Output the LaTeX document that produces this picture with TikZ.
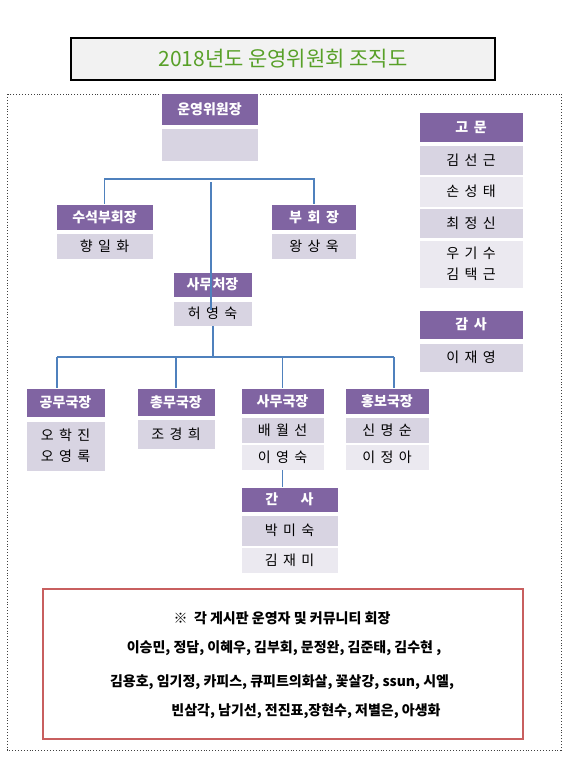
\documentclass[tikz,border=0pt]{standalone}
\usepackage{fontspec}
\setmainfont{Noto Sans CJK KR}
\definecolor{hdrc}{RGB}{128,100,162}
\definecolor{bodyc}{RGB}{216,212,226}
\definecolor{bodyl}{RGB}{235,233,240}
\definecolor{linec}{RGB}{79,129,189}
\definecolor{titleg}{RGB}{88,160,40}
\definecolor{redb}{RGB}{200,95,95}
\definecolor{titlebg}{RGB}{242,242,242}
\newcommand\myhdrfont{\fontsize{14}{16}\selectfont\bfseries\spaceskip=0.4em\relax}
\newcommand\mybodyfont{\fontsize{14}{21}\selectfont\spaceskip=0.38em\relax}
\tikzset{
  box/.style={draw=white, line width=0.7pt, inner sep=0pt, align=center},
  hdr/.style={box, fill=hdrc, text=white, font=\myhdrfont},
  bodyA/.style={box, fill=bodyc, text=black, font=\mybodyfont},
  bodyB/.style={box, fill=bodyl, text=black, font=\mybodyfont},
  conn/.style={draw=linec, line width=1.1pt},
  note/.style={font=\fontsize{14}{16}\selectfont\bfseries, inner sep=0pt},
}
\begin{document}
\begin{tikzpicture}[x=1pt,y=-1pt]
\useasboundingbox (0,0) rectangle (573,771);
% outer dotted frame
\draw[dotted, line width=0.9pt, black!75] (7,94) rectangle (561,750);
% title
\node[draw=black, line width=2.2pt, fill=titlebg, minimum width=424pt, minimum height=42pt,
      text=titleg, font=\fontsize{21}{23}\selectfont] (title) at (283,59) {2018년도 운영위원회 조직도};
% chair
\node[hdr, minimum width=97pt, minimum height=32pt] (ch) at (209.5,109) {운영위원장};
\node[bodyA, minimum width=97pt, minimum height=33pt] (chb) at (209.5,144.5) {};
% vice chairs
\node[hdr, minimum width=97pt, minimum height=26pt] (sv) at (104.5,217) {수석부회장};
\node[bodyA, minimum width=97pt, minimum height=26pt] (svb) at (104.5,246) {향 일 화};
\node[hdr, minimum width=85pt, minimum height=26pt] (bu) at (314,217) {부 회 장};
\node[bodyA, minimum width=85pt, minimum height=26pt] (bub) at (314,246) {왕 상 욱};
% secretary general
\node[hdr, minimum width=79pt, minimum height=25pt] (sc) at (212.5,284.5) {사무처장};
\node[bodyA, minimum width=79pt, minimum height=25pt] (scb) at (212.5,313.5) {허 영 숙};
% departments
\node[hdr, minimum width=79pt, minimum height=29pt] (gm) at (65.5,402.5) {공무국장};
\node[bodyA, minimum width=79pt, minimum height=50pt] (gmb) at (65.5,446) {오 학 진\\오 영 록};
\node[hdr, minimum width=78pt, minimum height=28pt] (cm) at (176,402) {총무국장};
\node[bodyA, minimum width=78pt, minimum height=30pt] (cmb) at (176,434) {조 경 희};
\node[hdr, minimum width=83pt, minimum height=26pt] (sm) at (282.5,401) {사무국장};
\node[bodyA, minimum width=83pt, minimum height=26pt] (smb1) at (282.5,430) {배 월 선};
\node[bodyB, minimum width=83pt, minimum height=26pt] (smb2) at (282.5,457) {이 영 숙};
\node[hdr, minimum width=84pt, minimum height=26pt] (hb) at (387,401) {홍보국장};
\node[bodyA, minimum width=84pt, minimum height=26pt] (hbb1) at (387,430) {신 명 순};
\node[bodyB, minimum width=84pt, minimum height=26pt] (hbb2) at (387,457.5) {이 정 아};
% gansa
\node[hdr, minimum width=97pt, minimum height=25pt] (gs) at (289.5,499.5) {간\hspace{1.6em}사};
\node[bodyA, minimum width=97pt, minimum height=31pt] (gsb1) at (289.5,530.5) {박 미 숙};
\node[bodyB, minimum width=97pt, minimum height=26pt] (gsb2) at (289.5,560) {김 재 미};
% advisers
\node[hdr, minimum width=104pt, minimum height=30pt] (gom) at (471,127) {고 문};
\node[bodyA, minimum width=104pt, minimum height=30pt] (go1) at (471,160) {김 선 근};
\node[bodyB, minimum width=104pt, minimum height=31pt] (go2) at (471,191.5) {손 성 태};
\node[bodyA, minimum width=104pt, minimum height=30pt] (go3) at (471,223) {최 정 신};
\node[bodyB, minimum width=104pt, minimum height=48pt] (go4) at (471,264) {우 기 수\\김 택 근};
% auditor
\node[hdr, minimum width=104pt, minimum height=29pt] (ga) at (471,324.5) {감 사};
\node[bodyA, minimum width=104pt, minimum height=29pt] (gab) at (471,357.5) {이 재 영};
% connectors
\coordinate (busT) at (211,179);
\draw[conn] (sv.north) -- (sv.north |- busT) -- (bu.north |- busT) -- (bu.north);
\coordinate (mT) at (211,182);
\coordinate (mB) at (211,310);
\draw[conn] (mT) -- (mB);
\coordinate (busL) at (57,357);
\coordinate (busR) at (394,357);
\coordinate (scx) at (213,357);
\draw[conn] (scb.south -| scx) -- (scx);
\draw[conn] (busL) -- (busR);
\draw[conn] (busL) -- (busL |- gm.north);
\draw[conn] (busR) -- (busR |- hb.north);
\draw[conn] (cm.north |- busL) -- (cm.north);
\draw[conn] (sm.north |- busL) -- (sm.north);
\draw[conn] (smb2.south) -- (smb2.south |- gs.north);
% bottom note box
\node[draw=redb, line width=1.6pt, minimum width=480pt, minimum height=150pt] (nb) at (283,664) {};
\node[note] (n1) at (282,618) {※\ \ 각 게시판 운영자 및 커뮤니티 회장};
\node[note] (n2) at (284,648) {이승민, 정담, 이혜우, 김부회, 문정완, 김준태, 김수현 ,};
\node[note] (n3) at (282,682) {김용호, 임기정, 카피스, 큐피트의화살, 꽃살강, ssun, 시엘,};
\node[note] (n4) at (306,711) {빈삼각, 남기선, 전진표,장현수, 저별은, 아생화};
\end{tikzpicture}
\end{document}
